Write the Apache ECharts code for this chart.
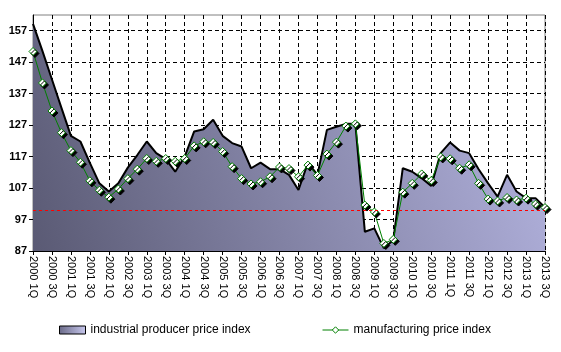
<!DOCTYPE html>
<html>
<head>
<meta charset="utf-8">
<script src="https://cdn.jsdelivr.net/npm/echarts@6/dist/echarts.min.js"></script>
<style>html,body{margin:0;padding:0;background:#fff;}#c{width:561px;height:352px;}</style>
</head>
<body>
<div id="c"></div>
<script>
var years = [2000,2001,2002,2003,2004,2005,2006,2007,2008,2009,2010,2011,2012,2013];
var quarters = ['1Q','2Q','3Q','4Q'];
var categories = [];
years.forEach(function(y){ quarters.forEach(function(q){ categories.push(y + ' ' + q); }); });
categories = categories.slice(0, 55); // 2000 1Q .. 2013 3Q

var industrialIndex = [159.2,150.5,141.5,132.5,123.6,121.8,115.0,108.5,105.9,108.5,
  113.5,117.5,121.8,118.1,116.2,112.2,117.0,125.0,125.7,128.7,
  123.6,121.3,120.2,113.3,115.1,113.0,113.0,111.2,106.4,115.1,
  111.2,125.5,126.5,127.4,127.4,93.1,94.2,87.9,90.5,113.3,
  112.2,110.1,107.7,118.1,121.5,118.9,118.1,113.0,108.5,104.3,
  111.2,105.9,103.8,103.8,100.8];
var manufacturingIndex = [150.4,140.4,131.5,124.6,118.9,115.2,109.3,106.3,104.1,106.7,
  110.0,113.0,116.4,115.5,116.4,115.5,116.4,120.4,121.7,121.5,
  118.6,113.8,110.0,108.3,109.0,110.6,113.7,113.2,110.6,114.3,
  111.0,117.8,121.6,126.7,127.4,101.6,99.4,89.4,90.7,105.7,
  108.5,111.5,109.4,116.9,116.3,113.3,114.4,108.5,103.5,102.9,
  104.0,103.2,103.8,101.9,100.8];
var yTicks = [87,97,107,117,127,137,147,157];
var refLine = 100;

var areaGrad = {type:'linear', x:0, y:1, x2:1, y2:0.2, colorStops:[
  {offset:0, color:'#5a5a74'},{offset:1, color:'#b4b4e0'}]};
var legendGrad = {type:'linear', x:0, y:0, x2:1, y2:0, colorStops:[
  {offset:0, color:'#6a6a88'},{offset:1, color:'#c8c8ee'}]};

var chart = echarts.init(document.getElementById('c'));
chart.setOption({
  animation:false,
  backgroundColor:'#fff',
  grid:{left:33, right:16, top:15, bottom:101, show:true, borderColor:'#808080', borderWidth:1},
  legend:[
    {left:54, top:319, itemWidth:26, itemHeight:8, itemGap:10,
     textStyle:{fontFamily:'Arial, Liberation Sans', fontSize:12, color:'#000'},
     data:[{name:'industrial producer price index', icon:'rect',
            itemStyle:{color:legendGrad, borderColor:'#000', borderWidth:1}}]},
    {left:317, top:319, itemWidth:26, itemHeight:8,
     textStyle:{fontFamily:'Arial, Liberation Sans', fontSize:12, color:'#000'},
     data:[{name:'manufacturing price index',
            itemStyle:{color:'#fff', borderColor:'#008000', borderWidth:1, shadowColor:'rgba(0,0,0,0)', shadowOffsetX:0, shadowOffsetY:0},
            lineStyle:{color:'#008000', width:1}}]}
  ],
  xAxis:{
    type:'category', data:categories, boundaryGap:false,
    axisLine:{lineStyle:{color:'#000', width:1}},
    axisTick:{show:true, interval:1, length:4, lineStyle:{color:'#000'}},
    axisLabel:{interval:1, rotate:-90, fontFamily:'Arial, Liberation Sans', fontSize:11, color:'#000', margin:5},
    splitLine:{show:true, interval:1, lineStyle:{color:'#000', type:[4,3], width:1}}
  },
  yAxis:{
    type:'value', min:87, max:162, interval:10,
    axisLine:{show:true, lineStyle:{color:'#000', width:1}},
    axisTick:{show:true, length:4, lineStyle:{color:'#000'}},
    axisLabel:{showMaxLabel:false, fontFamily:'Arial, Liberation Sans', fontWeight:'bold', fontSize:11, color:'#000', margin:6,
      formatter:function(v){ return yTicks.indexOf(v) >= 0 ? String(v) : ''; }},
    splitLine:{show:true, lineStyle:{color:['#000','#000','#000','#000','#000','#000','#000','#000','rgba(0,0,0,0)'], type:[4,3], width:1}}
  },
  series:[
    {name:'industrial producer price index', type:'line', data:industrialIndex,
     symbol:'none', z:2,
     lineStyle:{color:'#000', width:2},
     itemStyle:{color:legendGrad, borderColor:'#000'},
     areaStyle:{color:areaGrad, opacity:1}},
    {name:'manufacturing price index', type:'line', data:manufacturingIndex,
     symbol:'diamond', symbolSize:8, showSymbol:true, showAllSymbol:true, z:3,
     lineStyle:{color:'#008000', width:1},
     itemStyle:{color:'#fff', borderColor:'#008000', borderWidth:1,
       shadowColor:'#000', shadowOffsetX:2, shadowOffsetY:2, shadowBlur:0},
     markLine:{silent:true, symbol:'none', label:{show:false},
       lineStyle:{color:'#ff0000', type:[3,3], width:1},
       data:[{yAxis:refLine}]}}
  ]
});
</script>
</body>
</html>
